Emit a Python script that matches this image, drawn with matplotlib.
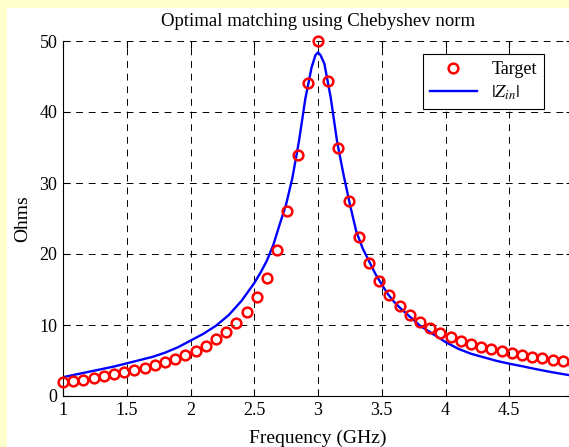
import matplotlib.pyplot as plt
from matplotlib.patches import Rectangle

# Target impedance (sampled every 0.08 GHz)
target_freq = [1 + 0.08 * k for k in range(51)]
target_ohms = [1.91, 2.10, 2.31, 2.53, 2.77, 3.03, 3.31, 3.61, 3.95, 4.33,
               4.75, 5.22, 5.76, 6.38, 7.10, 7.96, 9.00, 10.27, 11.87, 13.93,
               16.69, 20.51, 26.0, 34.0, 44.15, 50.0, 44.4, 34.96, 27.5, 22.4,
               18.78, 16.15, 14.18, 12.64, 11.42, 10.42, 9.59, 8.90, 8.30, 7.78,
               7.33, 6.94, 6.59, 6.27, 5.99, 5.73, 5.50, 5.29, 5.09, 4.91, 4.75]

# |Zin| of the matched network
zin_freq = [1.0, 1.2, 1.4, 1.5, 1.6, 1.7, 1.8, 1.9, 2.0, 2.1, 2.2, 2.3, 2.4,
            2.5, 2.55, 2.6, 2.65, 2.7, 2.75, 2.8, 2.85, 2.9, 2.95, 2.98, 3.0,
            3.02, 3.05, 3.1, 3.15, 3.2, 3.25, 3.3, 3.35, 3.4, 3.45, 3.5, 3.55,
            3.6, 3.65, 3.7, 3.8, 3.9, 4.0, 4.1, 4.2, 4.3, 4.4, 4.5, 4.6, 4.7,
            4.8, 4.9, 5.0]
zin_ohms = [2.65, 3.4, 4.15, 4.6, 5.05, 5.5, 6.1, 6.85, 7.8, 8.75, 9.9, 11.4, 13.4,
            15.9, 17.4, 19.1, 21.3, 24.2, 27.0, 30.8, 35.8, 41.8, 46.3, 48.0, 48.4,
            48.0, 46.8, 42.0, 35.8, 31.2, 27.0, 23.2, 20.8, 19.0, 17.2, 15.7, 14.3,
            13.2, 12.3, 11.5, 9.9, 8.75, 7.6, 6.65, 5.95, 5.45, 4.95, 4.55, 4.2,
            3.82, 3.47, 3.15, 2.85]

plt.rcParams['font.family'] = ['Liberation Serif', 'DejaVu Serif']
plt.rcParams['mathtext.fontset'] = 'stix'

W, H = 569, 447
fig = plt.figure(figsize=(W / 100, H / 100), dpi=100, facecolor='#ffffcc')
# white figure area (cropped MATLAB window), kept behind the axes
bg = Rectangle((7 / W, 0), 1, 1 - 8 / H, transform=fig.transFigure,
               facecolor='white', edgecolor='none', zorder=-10)
fig.add_artist(bg)

ax = fig.add_axes([63 / W, 51 / H, 510 / W, 355 / H])
ax.set_zorder(1)
ax.set_facecolor('white')

ax.plot(target_freq, target_ohms, 'o', mec='red', mfc='none', ms=7, mew=1.8,
        label='Target', clip_on=False, zorder=3)
ax.plot(zin_freq, zin_ohms, color='blue', lw=1.7, label=r'$|Z_{in}|$', zorder=2)

ax.set_xlim(1, 5)
ax.set_ylim(0, 50)
ax.set_xticks([1, 1.5, 2, 2.5, 3, 3.5, 4, 4.5, 5])
ax.set_xticklabels(['1', '1.5', '2', '2.5', '3', '3.5', '4', '4.5', '5'])
ax.set_yticks([0, 10, 20, 30, 40, 50])

ax.grid(True, color='k', lw=0.7, linestyle=(0, (7, 6)))
ax.set_axisbelow(True)
ax.spines['top'].set_visible(False)
ax.spines['right'].set_visible(False)
ax.tick_params(direction='in', length=5, width=0.8, top=True, right=True,
               labelsize=13, colors='k', pad=4)

ax.set_title('Optimal matching using Chebyshev norm', fontsize=13.5, pad=11)
ax.set_xlabel('Frequency (GHz)', fontsize=14, labelpad=8)
ax.set_ylabel('Ohms', fontsize=14, labelpad=6)

leg = ax.legend(loc='upper right', bbox_to_anchor=(0.943, 0.963), fontsize=13,
                fancybox=False, framealpha=1, edgecolor='k', borderpad=0.4,
                handlelength=2.6, labelspacing=0.3, borderaxespad=0)
leg.get_frame().set_linewidth(0.8)

fig.savefig('out.png', dpi=100, facecolor=fig.get_facecolor())
